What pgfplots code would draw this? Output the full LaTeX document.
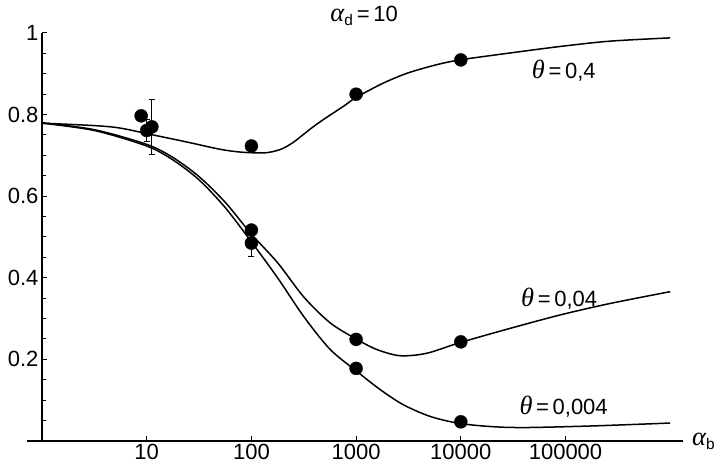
\documentclass[border=0pt]{standalone}
\usepackage{fontspec}
\setmainfont{Liberation Sans}
\newfontfamily\grk{Liberation Serif}[Scale=1.2]
\usepackage{pgfplots}
\pgfplotsset{compat=1.18}
\newcommand\fs{\fontsize{22}{26}\selectfont}
\newcommand\gi[1]{{\grk\itshape #1}}
\begin{document}
\begin{tikzpicture}
\useasboundingbox (0,0) rectangle (720pt,470pt);
\begin{axis}[
  at={(27pt,29pt)}, anchor=south west,
  scale only axis, width=656pt, height=408pt,
  xmode=log, xmin=0.7188, xmax=1.325e6, ymin=0, ymax=1,
  enlargelimits=false,
  axis lines=middle, axis line style={-, line width=1.1pt},
  tick align=inside,
  xtick={10,100,1000,10000,100000},
  xticklabels={10,100,1000,10000,100000},
  minor x tick num=0, xminorticks=false,
  ytick={0.2,0.4,0.6,0.8,1},
  yticklabels={0.2,0.4,0.6,0.8,1},
  minor ytick={0.05,0.1,0.15,0.25,0.3,0.35,0.45,0.5,0.55,0.65,0.7,0.75,0.85,0.9,0.95},
  major tick length=5pt, minor tick length=4pt,
  every tick/.style={line width=1pt, black},
  tick label style={font=\fs},
  clip=false,
]
% theta = 0.4
\addplot[smooth, line width=1.5pt, black] coordinates {
 (1,0.779) (3.162,0.773) (5.559,0.767) (11.56,0.750) (23.99,0.733) (50.12,0.715)
 (79.4,0.708) (125.9,0.706) (158.5,0.709) (199.5,0.717) (251.2,0.732) (316.2,0.752)
 (398.1,0.772) (501.2,0.790) (631.0,0.807) (794.3,0.824)
 (1000,0.842) (1778,0.876) (3041,0.901) (5623,0.921) (9772,0.934) (29512,0.951) (89125,0.967) (266073,0.980) (1000000,0.988)};
% theta = 0.04
\addplot[smooth, line width=1.5pt, black] coordinates {
 (1,0.780) (3.162,0.763) (10,0.727) (17.78,0.695) (31.62,0.648) (56.23,0.585)
 (100,0.507) (177.8,0.437) (316.2,0.353) (562.3,0.290) (1000,0.250) (1585,0.224)
 (2630,0.209) (4721,0.215) (9772,0.241) (29512,0.276) (89125,0.309) (266073,0.337) (1000000,0.366)};
% theta = 0.004
\addplot[smooth, line width=1.5pt, black] coordinates {
 (1,0.779) (3.162,0.761) (10,0.723) (17.78,0.689) (31.62,0.640) (56.23,0.572)
 (100,0.488) (177.8,0.400) (316.2,0.305) (562.3,0.225) (1000,0.172) (1698,0.126)
 (2818,0.089) (5129,0.060) (9772,0.043) (20417,0.035) (42658,0.033) (184077,0.037) (1000000,0.044)};
% error bars
\addplot[only marks, mark=none, black,
  error bars/.cd, y dir=both, y explicit,
  error bar style={line width=1pt},
  error mark options={rotate=90, mark size=3pt, line width=1pt}]
 coordinates {(10,0.761) +- (0,0.026) (11.2,0.770) +- (0,0.068) (100,0.485) +- (0,0.033)};
% data points
\addplot[only marks, mark=*, mark size=6.5pt, black] coordinates {
 (8.85,0.797) (10,0.761) (11.2,0.770) (100,0.723) (1000,0.850) (10000,0.934)
 (100,0.517) (100,0.485) (1000,0.249) (1000,0.178) (10000,0.243) (10000,0.047)};
\node[anchor=west, inner sep=0, font=\fs] at (axis cs:47534,0.907) {\gi{θ}\,=\,0,4};
\node[anchor=west, inner sep=0, font=\fs] at (axis cs:37584,0.350) {\gi{θ}\,=\,0,04};
\node[anchor=west, inner sep=0, font=\fs] at (axis cs:36224,0.083) {\gi{θ}\,=\,0,004};
\node[font=\fs, inner sep=0] at (rel axis cs:0.514,1.043) {\gi{α}\textsubscript{d}\,=\,10};
\node[anchor=west, font=\fs, inner sep=0, xshift=9pt] at (rel axis cs:1,0) {\gi{α}\textsubscript{b}};
\end{axis}
\end{tikzpicture}
\end{document}
